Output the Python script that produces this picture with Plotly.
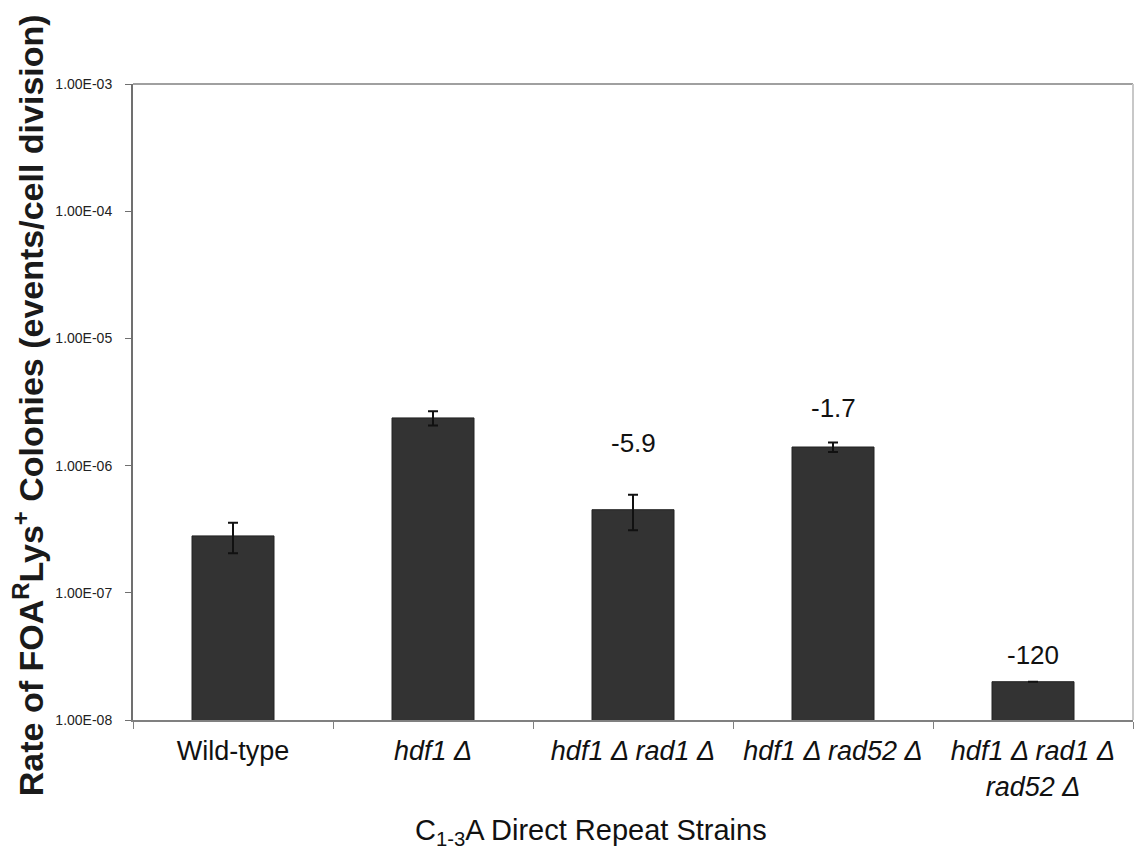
import math
import plotly.graph_objects as go

# ---- data ----
categories = [
    "Wild-type",
    "<i>hdf1 Δ</i>",
    "<i>hdf1 Δ rad1 Δ</i>",
    "<i>hdf1 Δ rad52 Δ</i>",
    "<i>hdf1 Δ rad1 Δ</i><br><i>rad52 Δ</i>",
]
rates = [2.8e-7, 2.37e-6, 4.5e-7, 1.40e-6, 2.0e-8]
errors = [0.75e-7, 0.3e-6, 1.4e-7, 0.12e-6, 0.0]
fold_labels = ["", "", "-5.9", "-1.7", "-120"]
y_tickvals = [1e-8, 1e-7, 1e-6, 1e-5, 1e-4, 1e-3]
y_ticktext = ["1.00E-08", "1.00E-07", "1.00E-06", "1.00E-05", "1.00E-04", "1.00E-03"]

FONT = "Liberation Sans, Arial, sans-serif"

fig = go.Figure()
fig.add_trace(go.Bar(
    x=categories,
    y=rates,
    marker=dict(color="#333333", line=dict(color="#222222", width=1)),
    width=0.41,
    error_y=dict(type="data", array=errors, visible=True,
                 color="#111111", thickness=2, width=5),
))

# fold-change labels above bars
label_shift = [0, 0, 50, 22, 10]
for cat, val, lab, sh in zip(categories, rates, fold_labels, label_shift):
    if lab:
        fig.add_annotation(x=cat, y=math.log10(val), text=lab, showarrow=False,
                           yanchor="bottom", yshift=sh,
                           font=dict(family=FONT, size=26, color="#111111"))

# axis titles as annotations
fig.add_annotation(
    xref="paper", yref="paper", x=-0.105, y=0.495,
    text="Rate of FOA<sup>R</sup>Lys<sup>+</sup> Colonies (events/cell division)",
    textangle=-90, showarrow=False, xanchor="center", yanchor="middle",
    font=dict(family=FONT, size=34, color="#1a1a1a", weight="bold"),
)
fig.add_annotation(
    xref="paper", yref="paper", x=0.458, y=-0.176,
    text="C<sub>1-3</sub>A Direct Repeat Strains",
    showarrow=False, xanchor="center", yanchor="middle",
    font=dict(family=FONT, size=29, color="#111111"),
)

# top and right border lines
fig.add_shape(type="line", xref="paper", yref="paper", x0=0, x1=1, y0=1, y1=1,
              line=dict(color="#a0a0a0", width=2))
fig.add_shape(type="line", xref="paper", yref="paper", x0=1, x1=1, y0=0, y1=1,
              line=dict(color="#c8c8c8", width=2))

fig.update_layout(
    width=1136, height=845,
    margin=dict(l=125, r=11, t=76, b=133),
    paper_bgcolor="white", plot_bgcolor="white",
    showlegend=False,
    font=dict(family=FONT, color="#111111"),
)
fig.update_xaxes(
    type="category", showline=True, linecolor="#808080", linewidth=2,
    ticks="outside", tickson="boundaries", ticklen=7, tickcolor="#808080",
    ticklabelstandoff=6,
    tickfont=dict(family=FONT, size=27, color="#111111"),
    showgrid=False, zeroline=False,
)
fig.update_yaxes(
    type="log", range=[-8, -3], tickvals=y_tickvals, ticktext=y_ticktext,
    showline=True, linecolor="#707070", linewidth=2,
    ticks="outside", ticklen=6, tickcolor="#707070",
    ticklabelstandoff=10,
    tickfont=dict(family=FONT, size=14, color="#222222"),
    showgrid=False, zeroline=False,
)

fig.write_html("out.html")
